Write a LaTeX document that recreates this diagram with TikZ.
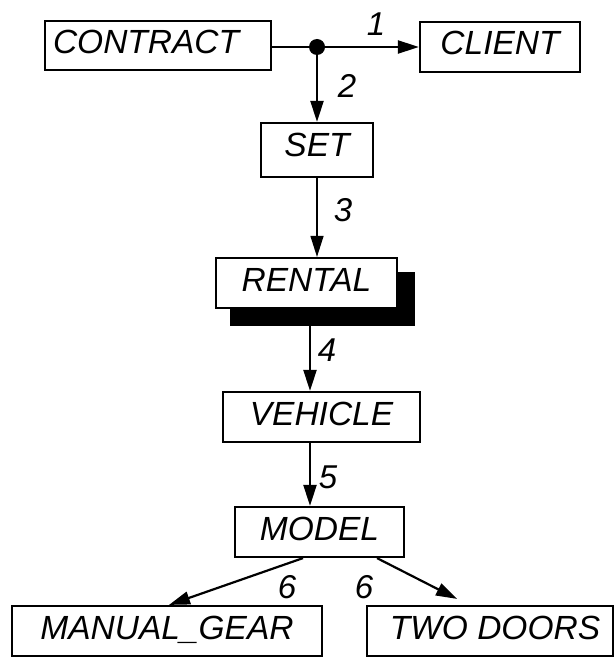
\documentclass[tikz,border=0pt]{standalone}
\usepackage{fontspec}
\setmainfont{Liberation Sans}
\usetikzlibrary{arrows.meta,backgrounds}
\begin{document}
\begin{tikzpicture}[x=1pt,y=-1pt,
  box/.style={draw, line width=2.2pt, fill=white, inner xsep=0pt, inner ysep=0pt,
    text height=33pt, text depth=17pt, font=\fontsize{33.5}{38}\selectfont\itshape},
  conn/.style={line width=2.2pt},
  thinconn/.style={line width=1.4pt},
  tip/.style={-{Triangle[length=21pt,width=13pt]}},
  num/.style={inner sep=0pt, font=\fontsize{33}{38}\selectfont\itshape},
  shadowfill/.style={fill=black}
]
\useasboundingbox (0,0) rectangle (615,658);

% boxes
\node[box, minimum width=226pt, text depth=16pt, inner xsep=8pt, text width=210pt, align=left] (contract) at (158,45.5) {CONTRACT};
\node[box, minimum width=160pt] (client) at (500,47) {CLIENT};
\node[box, minimum width=112pt, text height=34pt, text depth=20pt] (set) at (317,150) {SET};
\node[box, minimum width=181pt] (rental) at (306.5,283) {RENTAL};
\node[box, minimum width=197pt] (vehicle) at (321.5,417) {VEHICLE};
\node[box, minimum width=169pt] (model) at (319.5,532) {MODEL};
\node[box, minimum width=310pt] (manual) at (167,631) {MANUAL\_GEAR};
\node[box, minimum width=246pt] (twodoors) at (490,631) {\hspace*{10pt}TWO DOORS};

% shadow of RENTAL
\begin{scope}[on background layer]
  \fill[shadowfill] ([xshift=15.5pt,yshift=-17pt]rental.south west) rectangle ([xshift=16.5pt,yshift=-15pt]rental.north east);
\end{scope}

% junction
\node[circle, fill=black, inner sep=0pt, minimum size=16pt] (dot) at (317,47) {};

% connectors
\draw[conn] (contract.east |- dot) -- (dot);
\draw[conn,tip] (dot) -- (client.west |- dot);
\draw[conn,tip] (dot) -- (set.north);
\draw[thinconn,tip] (set.south) -- (set.south |- rental.north);
\coordinate (rsh) at ([xshift=3.5pt,yshift=-16pt]rental.south);
\draw[conn,tip] (rsh) -- (rsh |- vehicle.north);
\coordinate (v5) at ([xshift=-11.5pt]vehicle.south);
\draw[conn,tip] (v5) -- (v5 |- model.north);
\coordinate (m6a) at ([xshift=-16.5pt]model.south);
\coordinate (m6b) at ([xshift=57.5pt]model.south);
\coordinate (g6) at ([xshift=2pt]manual.north);
\coordinate (t6) at ([xshift=-33pt,yshift=6pt]twodoors.north);
\draw[conn,tip] (m6a) -- (g6);
\draw[conn,tip] (m6b) -- (t6);

% labels
\node[num] (n1) at (376,24) {1};
\node[num] (n2) at (347,86) {2};
\node[num] (n3) at (343,210) {3};
\node[num] (n4) at (327,350) {4};
\node[num] (n5) at (328,477) {5};
\node[num] (n6a) at (287,587) {6};
\node[num] (n6b) at (364,587) {6};
\end{tikzpicture}
\end{document}
